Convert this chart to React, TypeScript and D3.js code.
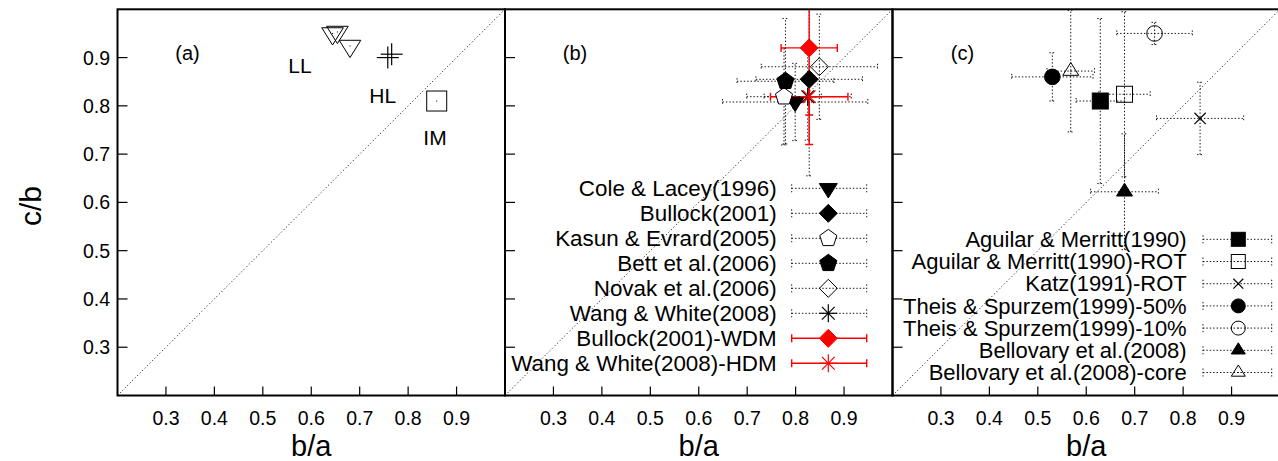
import React from "react";
import * as d3 from "d3";

// ---------- data ----------
const tickValues = [0.3, 0.4, 0.5, 0.6, 0.7, 0.8, 0.9];
const tickLabels = ["0.3", "0.4", "0.5", "0.6", "0.7", "0.8", "0.9"];
const panelLetters = ["(a)", "(b)", "(c)"];

// panel (a)
const llX = [0.644, 0.654, 0.680];
const llY = [0.950, 0.953, 0.924];
const hlX = [0.758, 0.766];
const hlY = [0.900, 0.907];
const imX = [0.859];
const imY = [0.810];
const aLabels = ["LL", "HL", "IM"];

// panel (b)
const bNames = [
  "Cole & Lacey(1996)",
  "Bullock(2001)",
  "Kasun & Evrard(2005)",
  "Bett et al.(2006)",
  "Novak et al.(2006)",
  "Wang & White(2008)",
  "Bullock(2001)-WDM",
  "Wang & White(2008)-HDM",
];
const bX = [0.799, 0.828, 0.776, 0.779, 0.849, 0.825, 0.828, 0.828];
const bY = [0.808, 0.855, 0.819, 0.851, 0.881, 0.819, 0.920, 0.819];
const bXErr = [0.15, 0.11, 0.077, 0.10, 0.12, 0.09, 0.058, 0.08];
const bYErr = [0.08, 0.20, 0.10, 0.13, 0.109, 0.09, 0.20, 0.038];
const bSymbols = ["tridown", "diamondF", "pentagonO", "pentagonF", "diamondO", "asterisk", "diamondF", "asterisk"];
const bColors = ["#000", "#000", "#000", "#000", "#000", "#000", "#ff0000", "#ff0000"];

// panel (c)
const cNames = [
  "Aguilar & Merritt(1990)",
  "Aguilar & Merritt(1990)-ROT",
  "Katz(1991)-ROT",
  "Theis & Spurzem(1999)-50%",
  "Theis & Spurzem(1999)-10%",
  "Bellovary et al.(2008)",
  "Bellovary et al.(2008)-core",
];
const cX = [0.629, 0.679, 0.835, 0.530, 0.741, 0.679, 0.568];
const cY = [0.810, 0.824, 0.774, 0.860, 0.950, 0.622, 0.872];
const cXErr = [0.05, 0.053, 0.09, 0.084, 0.078, 0.07, 0.049];
const cYErr = [0.171, 0.171, 0.075, 0.05, 0.023, 0.12, 0.126];
const cSymbols = ["squareF", "squareO", "cross", "circleF", "circleO", "triupF", "triupO"];

// ---------- layout ----------
const W = 1278;
const H = 461;
const panelLefts = [117.5, 505, 892.5];
const panelW = 387.5;
const top = 9.3;
const bottom = 395.5;
const FONT = "'Liberation Sans', Arial, Helvetica, sans-serif";

function Marker({ type, cx, cy, s, color = "#000", dot = false }: any) {
  const fillC = color;
  const sw = 1;
  const els: any[] = [];
  if (type.startsWith("tridown") || type.startsWith("triup")) {
    const h = s * 1.6;
    const down = type.startsWith("tridown");
    const filled = !type.endsWith("O");
    const pts = down
      ? [[cx - s, cy - h * 0.33], [cx + s, cy - h * 0.33], [cx, cy + h * 0.67]]
      : [[cx - s, cy + h * 0.33], [cx + s, cy + h * 0.33], [cx, cy - h * 0.67]];
    els.push(
      <polygon key="p" points={pts.map((p) => p.join(",")).join(" ")}
        fill={filled ? fillC : "#fff"} fillOpacity={filled ? 1 : 0} stroke={color} strokeWidth={sw} />
    );
  } else if (type.startsWith("diamond")) {
    const filled = type.endsWith("F");
    const pts = [[cx, cy - s], [cx + s, cy], [cx, cy + s], [cx - s, cy]];
    els.push(
      <polygon key="p" points={pts.map((p) => p.join(",")).join(" ")}
        fill={filled ? fillC : "none"} stroke={color} strokeWidth={sw} />
    );
  } else if (type.startsWith("pentagon")) {
    const filled = type.endsWith("F");
    const pts = d3.range(5).map((i) => {
      const a = -Math.PI / 2 + (i * 2 * Math.PI) / 5;
      return [cx + s * Math.cos(a), cy + s * Math.sin(a)];
    });
    els.push(
      <polygon key="p" points={pts.map((p) => p.join(",")).join(" ")}
        fill={filled ? fillC : "#fff"} stroke={color} strokeWidth={sw} />
    );
  } else if (type.startsWith("square")) {
    const filled = type.endsWith("F");
    els.push(
      <rect key="r" x={cx - s} y={cy - s} width={2 * s} height={2 * s}
        fill={filled ? fillC : "none"} stroke={color} strokeWidth={sw} />
    );
  } else if (type.startsWith("circle")) {
    const filled = type.endsWith("F");
    els.push(
      <circle key="c" cx={cx} cy={cy} r={s} fill={filled ? fillC : "none"} stroke={color} strokeWidth={sw} />
    );
  } else if (type === "plus" || type === "cross" || type === "asterisk") {
    const angles = type === "plus" ? [0, 90] : type === "cross" ? [45, 135] : [0, 45, 90, 135];
    angles.forEach((deg, i) => {
      const a = (deg * Math.PI) / 180;
      const dx = s * Math.cos(a);
      const dy = s * Math.sin(a);
      els.push(
        <line key={"l" + i} x1={cx - dx} y1={cy - dy} x2={cx + dx} y2={cy + dy}
          stroke={color} strokeWidth={1.2} />
      );
    });
  }
  if (dot) {
    els.push(<rect key="d" x={cx - 0.5} y={cy - 0.5} width={1} height={1} fill="#000" />);
  }
  return <g>{els}</g>;
}

function ErrorBar({ x, y, cx, cy, xe, ye, red }: any) {
  const stroke = red ? "#ff0000" : "#111";
  const dash = red ? undefined : "1.4,2";
  const sw = red ? 1.4 : 1;
  const cap = red ? 4 : 3;
  const x1 = x(cx - xe), x2 = x(cx + xe);
  const y1 = y(cy - ye), y2 = y(cy + ye);
  const px = x(cx), py = y(cy);
  return (
    <g stroke={stroke} strokeWidth={sw} strokeDasharray={dash} fill="none">
      <line x1={x1} y1={py} x2={x2} y2={py} />
      <line x1={x1} y1={py - cap} x2={x1} y2={py + cap} />
      <line x1={x2} y1={py - cap} x2={x2} y2={py + cap} />
      <line x1={px} y1={y1} x2={px} y2={y2} />
      <line x1={px - cap} y1={y1} x2={px + cap} y2={y1} />
      <line x1={px - cap} y1={y2} x2={px + cap} y2={y2} />
    </g>
  );
}

function LegendSample({ my, x1, x2, red }: any) {
  const stroke = red ? "#ff0000" : "#111";
  const dash = red ? undefined : "1.4,2";
  const sw = red ? 1.4 : 1;
  return (
    <g stroke={stroke} strokeWidth={sw} strokeDasharray={dash}>
      <line x1={x1} y1={my} x2={x2} y2={my} />
      <line x1={x1} y1={my - 4} x2={x1} y2={my + 4} />
      <line x1={x2} y1={my - 4} x2={x2} y2={my + 4} />
    </g>
  );
}

export default function App() {
  const y = d3.scaleLinear().domain([0.2, 1.0]).range([bottom, top]);
  const xs = panelLefts.map((l) => d3.scaleLinear().domain([0.2, 1.0]).range([l, l + panelW]));
  const clipIds = ["clipA", "clipB", "clipC"];

  return (
    <svg width={W} height={H} style={{ position: "absolute", left: 0, top: 0, background: "#fff" }}
      fontFamily={FONT}>
      <defs>
        {panelLefts.map((l, i) => (
          <clipPath id={clipIds[i]} key={i}>
            <rect x={l} y={top} width={panelW} height={bottom - top} />
          </clipPath>
        ))}
      </defs>
      <rect x={0} y={0} width={W} height={H} fill="#fff" />

      {/* y axis label */}
      <text x={0} y={0} transform={`translate(41,206) rotate(-90)`} textAnchor="middle" fontSize={30}>
        c/b
      </text>

      {/* y tick labels */}
      {tickValues.map((v, i) => (
        <text key={"yt" + i} x={110} y={y(v) + 7} textAnchor="end" fontSize={19.5}>
          {tickLabels[i]}
        </text>
      ))}

      {xs.map((x, pi) => (
        <g key={"panel" + pi}>
          {/* diagonal */}
          <line x1={x(0.2)} y1={y(0.2)} x2={x(1.0)} y2={y(1.0)} stroke="#000" strokeWidth={1}
            strokeDasharray="1,2.5" />
          {/* ticks */}
          {tickValues.map((v, i) => (
            <g key={"t" + i} stroke="#000" strokeWidth={1.2}>
              <line x1={x(v)} y1={bottom} x2={x(v)} y2={bottom - 9} />
              <line x1={x(0.2)} y1={y(v)} x2={x(0.2) + 10} y2={y(v)} />
            </g>
          ))}
          {tickValues.map((v, i) => (
            <text key={"xt" + i} x={x(v)} y={425} textAnchor="middle" fontSize={19.5}>
              {tickLabels[i]}
            </text>
          ))}
          <text x={x(0.6)} y={455.5} textAnchor="middle" fontSize={29}>
            b/a
          </text>
          <text x={x(0.2) + 70} y={53.3 + 7} textAnchor="middle" fontSize={20}>
            {panelLetters[pi]}
          </text>
        </g>
      ))}

      {/* panel (a) */}
      <g>
        {llX.map((v, i) => (
          <Marker key={"ll" + i} type="tridownO" cx={xs[0](v)} cy={y(llY[i])} s={10.8} dot />
        ))}
        {hlX.map((v, i) => (
          <Marker key={"hl" + i} type="plus" cx={xs[0](v)} cy={y(hlY[i])} s={11} />
        ))}
        {imX.map((v, i) => (
          <Marker key={"im" + i} type="squareO" cx={xs[0](v)} cy={y(imY[i])} s={10} dot />
        ))}
        <text x={300} y={72.5} textAnchor="middle" fontSize={21}>{aLabels[0]}</text>
        <text x={382.7} y={103} textAnchor="middle" fontSize={21}>{aLabels[1]}</text>
        <text x={435} y={144.5} textAnchor="middle" fontSize={21}>{aLabels[2]}</text>
      </g>

      {/* panel (b) */}
      <g clipPath={`url(#${clipIds[1]})`}>
        {bNames.map((n, i) => (
          <ErrorBar key={"be" + i} x={xs[1]} y={y} cx={bX[i]} cy={bY[i]} xe={bXErr[i]} ye={bYErr[i]}
            red={bColors[i] !== "#000"} />
        ))}
        {bNames.map((n, i) => (
          <Marker key={"bm" + i} type={bSymbols[i]} cx={xs[1](bX[i])} cy={y(bY[i])} s={9}
            color={bColors[i]} />
        ))}
      </g>
      {bNames.map((n, i) => {
        const my = 188.3 + i * 25;
        const l = panelLefts[1];
        return (
          <g key={"bl" + i}>
            <text x={l + 271.7} y={my + 7.8} textAnchor="end" fontSize={22.4}>{n}</text>
            <LegendSample my={my} x1={l + 286.7} x2={l + 361.7} red={bColors[i] !== "#000"} />
            <Marker type={bSymbols[i]} cx={l + 323.3} cy={my} s={9} color={bColors[i]} />
          </g>
        );
      })}

      {/* panel (c) */}
      <g clipPath={`url(#${clipIds[2]})`}>
        {cNames.map((n, i) => (
          <ErrorBar key={"ce" + i} x={xs[2]} y={y} cx={cX[i]} cy={cY[i]} xe={cXErr[i]} ye={cYErr[i]} />
        ))}
        {cNames.map((n, i) => (
          <Marker key={"cm" + i} type={cSymbols[i]} cx={xs[2](cX[i])} cy={y(cY[i])}
            s={cSymbols[i].startsWith("circle") ? 7.8 : 8} dot={cSymbols[i].endsWith("O")} />
        ))}
      </g>
      {cNames.map((n, i) => {
        const my = 239.3 + i * 22.2;
        const l = panelLefts[2];
        return (
          <g key={"cl" + i}>
            <text x={l + 294.2} y={my + 7.6} textAnchor="end" fontSize={22}>{n}</text>
            <LegendSample my={my} x1={l + 310.5} x2={l + 379.2} />
            <Marker type={cSymbols[i]} cx={l + 345.8} cy={my} s={7} dot={cSymbols[i].endsWith("O")} />
          </g>
        );
      })}

      {/* borders */}
      {panelLefts.map((l, i) => (
        <rect key={"b" + i} x={l} y={top} width={panelW} height={bottom - top} fill="none"
          stroke="#000" strokeWidth={2} />
      ))}
    </svg>
  );
}
